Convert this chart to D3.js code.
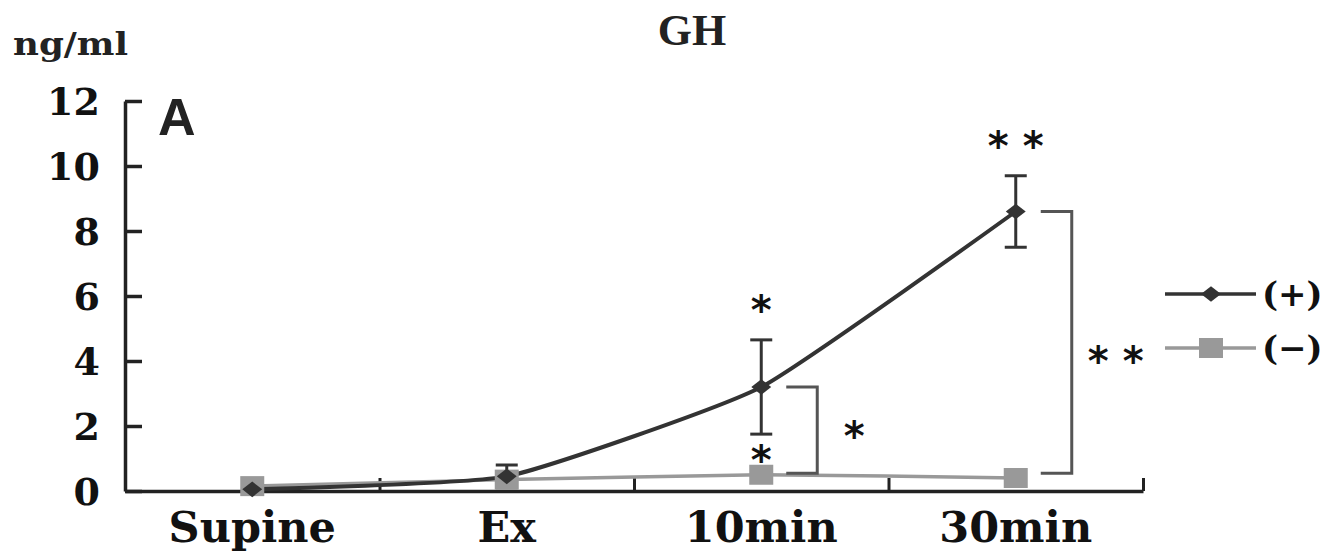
<!DOCTYPE html>
<html><head><meta charset="utf-8">
<script src="https://cdn.jsdelivr.net/npm/d3@7"></script>
<style>body{margin:0;background:#fff}svg{display:block}</style>
</head><body>
<svg id="c" width="1338" height="555"></svg>
<script>
const categories = ["Supine", "Ex", "10min", "30min"];
const plusMean = [0.05, 0.45, 3.2, 8.6];
const plusErr = [0.05, 0.35, 1.45, 1.1];
const minusMean = [0.15, 0.35, 0.5, 0.4];
const yTicks = [0, 2, 4, 6, 8, 10, 12];
const seriesNames = ["(+)", "(−)"];
const starsAbove = ["*", "*", "*", "* *"]; // only shown for 10min, 30min
const starsShown = [false, false, true, true];
const bracketLabels = ["*", "* *"];

const svg = d3.select("#c");
const L = 125, R = 1143, T = 101, B = 491;
const x = d3.scaleBand().domain(categories).range([L, R]);
const xb = d3.scaleLinear().domain([0, categories.length]).range([L, R]);
const y = d3.scaleLinear().domain([0, 12]).range([B, T]);
const serif = "'DejaVu Serif', serif";
const dark = "#333", gray = "#999";

// title
svg.append("text").attr("x", 692).attr("y", 45).attr("text-anchor", "middle")
  .attr("font-family", "'Liberation Serif', serif").attr("font-weight", "bold")
  .attr("font-size", 44).attr("fill", "#222").text("GH");
svg.append("text").attr("x", 13).attr("y", 55)
  .attr("font-family", serif).attr("font-weight", "bold")
  .attr("font-size", 32).attr("fill", "#222")
  .attr("textLength", 115).attr("lengthAdjust", "spacingAndGlyphs").text("ng/ml");
svg.append("text").attr("x", 158).attr("y", 135)
  .attr("font-family", "'Liberation Sans', Arial, sans-serif").attr("font-weight", "bold")
  .attr("font-size", 52).attr("fill", "#222").text("A");

// y axis
const ya = svg.append("g").attr("transform", `translate(${L},0)`)
  .call(d3.axisLeft(y).tickValues(yTicks).tickSize(-17).tickPadding(25).tickSizeOuter(0));
ya.select(".domain").attr("stroke", "#222").attr("stroke-width", 3.5);
ya.selectAll(".tick line").attr("stroke", "#222").attr("stroke-width", 3.5);
ya.selectAll(".tick text").attr("font-family", serif).attr("font-weight", "bold")
  .attr("font-size", 38).attr("fill", "#111").attr("dy", "0.36em");

// x axis boundary ticks
const xa = svg.append("g").attr("transform", `translate(0,${B})`)
  .call(d3.axisBottom(xb).tickValues(d3.range(1, categories.length + 1)).tickSize(-13).tickFormat("").tickSizeOuter(0));
xa.select(".domain").attr("stroke", "#222").attr("stroke-width", 3.5);
xa.selectAll(".tick line").attr("stroke", "#222").attr("stroke-width", 3);
// x labels
const xl = svg.append("g").attr("transform", `translate(0,${B})`)
  .call(d3.axisBottom(x).tickSize(0).tickPadding(51));
xl.select(".domain").remove();
xl.selectAll(".tick text").attr("font-family", serif).attr("font-weight", "bold")
  .attr("font-size", 43).attr("fill", "#111").attr("dy", "0");

const cx = d => x(d) + x.bandwidth() / 2;

// minus series
const line = d3.line().curve(d3.curveCardinal.tension(0.55));
svg.append("path").attr("d", line(categories.map((c, i) => [cx(c), y(minusMean[i])])))
  .attr("fill", "none").attr("stroke", gray).attr("stroke-width", 3.5);
// plus series
svg.append("path").attr("d", line(categories.map((c, i) => [cx(c), y(plusMean[i])])))
  .attr("fill", "none").attr("stroke", dark).attr("stroke-width", 4);

// error bars
categories.forEach((c, i) => {
  const g = svg.append("g").attr("stroke", dark).attr("stroke-width", 3);
  const x0 = cx(c), hi = y(plusMean[i] + plusErr[i]), lo = y(plusMean[i] - plusErr[i]);
  g.append("line").attr("x1", x0).attr("x2", x0).attr("y1", hi).attr("y2", lo);
  g.append("line").attr("x1", x0 - 11).attr("x2", x0 + 11).attr("y1", hi).attr("y2", hi);
  if (i > 0) g.append("line").attr("x1", x0 - 11).attr("x2", x0 + 11).attr("y1", lo).attr("y2", lo);
});

// markers
const diamond = d3.symbol().type(d3.symbolSquare).size(150);
svg.selectAll(".sq").data(categories).join("rect")
  .attr("x", d => cx(d) - 12).attr("y", (d, i) => y(minusMean[i]) - 10)
  .attr("width", 24).attr("height", 20).attr("fill", gray);
svg.selectAll(".dm").data(categories).join("path")
  .attr("transform", (d, i) => `translate(${cx(d)},${y(plusMean[i])}) scale(1.15,0.9) rotate(45)`)
  .attr("d", diamond).attr("fill", dark);

// stars
const starFont = "'DejaVu Sans', sans-serif";
categories.forEach((c, i) => {
  if (!starsShown[i]) return;
  svg.append("text").attr("x", cx(c)).attr("y", y(plusMean[i] + plusErr[i]) - 16)
    .attr("text-anchor", "middle").attr("font-family", starFont).attr("font-weight", "bold")
    .attr("font-size", 40).attr("fill", "#111").text(starsAbove[i]);
});
// star under 10min error bar
svg.append("text").attr("x", cx(categories[2])).attr("y", y(plusMean[2] - plusErr[2]) + 40)
  .attr("text-anchor", "middle").attr("font-family", starFont).attr("font-weight", "bold")
  .attr("font-size", 40).attr("fill", "#111").text("*");

// brackets
[2, 3].forEach((i, k) => {
  const x0 = cx(categories[i]) + 25, x1 = cx(categories[i]) + 56;
  const yt = y(plusMean[i]), yb = y(0.55);
  svg.append("path").attr("d", `M${x0},${yt}H${x1}V${yb}H${x0}`)
    .attr("fill", "none").attr("stroke", "#555").attr("stroke-width", 3);
  svg.append("text").attr("x", x1 + (k === 0 ? 37 : 44)).attr("y", (yt + yb) / 2 + (k === 0 ? 20 : 33))
    .attr("text-anchor", "middle").attr("font-family", starFont).attr("font-weight", "bold")
    .attr("font-size", 40).attr("fill", "#111").text(bracketLabels[k]);
});

// legend
seriesNames.forEach((s, i) => {
  const ly = 294 + i * 54;
  const g = svg.append("g");
  g.append("line").attr("x1", 1165).attr("x2", 1256).attr("y1", ly).attr("y2", ly)
    .attr("stroke", i === 0 ? dark : gray).attr("stroke-width", 3.5);
  if (i === 0) g.append("path").attr("transform", `translate(1211,${ly}) scale(1.15,0.9) rotate(45)`).attr("d", diamond).attr("fill", dark);
  else g.append("rect").attr("x", 1199).attr("y", ly - 10).attr("width", 24).attr("height", 20).attr("fill", gray);
  g.append("text").attr("x", 1262).attr("y", ly + 12).attr("font-family", serif).attr("font-weight", "bold")
    .attr("font-size", 34).attr("fill", "#111").text(s);
});
</script>
</body></html>
